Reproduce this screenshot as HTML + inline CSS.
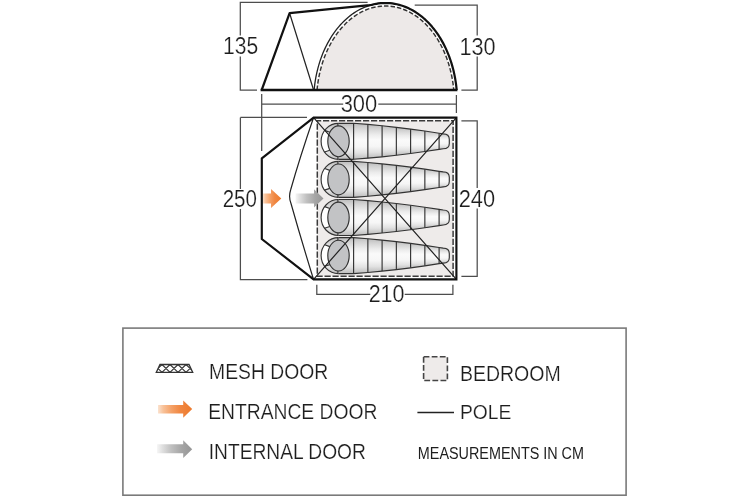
<!DOCTYPE html>
<html><head><meta charset="utf-8">
<style>
html,body{margin:0;padding:0;background:#fff;}
body{width:750px;height:500px;overflow:hidden;position:relative;}
svg{position:absolute;left:0;top:0;will-change:transform;}
text{font-family:"Liberation Sans",sans-serif;fill:#1e1e1e;stroke:#fff;stroke-width:0.2px;}
</style></head><body>
<svg width="750" height="500" viewBox="0 0 750 500">
<defs>
<linearGradient id="bg" x1="0" y1="0" x2="0" y2="1">
<stop offset="0" stop-color="#bcbcbc"/><stop offset="0.12" stop-color="#d2d2d2"/><stop offset="0.3" stop-color="#ececec"/><stop offset="0.45" stop-color="#fafafa"/><stop offset="0.65" stop-color="#f6f6f6"/><stop offset="0.82" stop-color="#e2e2e2"/><stop offset="1" stop-color="#bcbcbc"/>
</linearGradient>
<linearGradient id="og" x1="0" y1="0" x2="1" y2="0">
<stop offset="0" stop-color="#fbe3d0"/><stop offset="0.15" stop-color="#f8c29a"/><stop offset="0.4" stop-color="#f4a066"/><stop offset="0.65" stop-color="#f08742"/><stop offset="1" stop-color="#ed7a2c"/>
</linearGradient>
<linearGradient id="gg" x1="0" y1="0" x2="1" y2="0">
<stop offset="0" stop-color="#f6f6f6"/><stop offset="0.15" stop-color="#e0e0e0"/><stop offset="0.4" stop-color="#c0c0c0"/><stop offset="0.7" stop-color="#a5a5a5"/><stop offset="1" stop-color="#959595"/>
</linearGradient>
<clipPath id="meshclip"><path d="M160,364.5 L189,364.5 L192.7,372.3 L156.3,372.3Z"/></clipPath>
</defs>

<!-- ===== Elevation ===== -->
<g fill="none" stroke="#4d4d4d" stroke-width="1.25">
<path d="M257,90 H240.3 V56.6 M240.3,35.6 V2.4 H367.6"/>
<path d="M414.7,5 H477.2 V35.6 M477.2,56.6 V90 H461.4"/>
</g>
<path d="M317.04,90 L317.35,86.95 L317.73,83.91 L318.19,80.89 L318.71,77.89 L319.3,74.92 L319.96,71.98 L320.68,69.07 L321.47,66.19 L322.33,63.34 L323.26,60.54 L324.24,57.78 L325.29,55.07 L326.41,52.4 L327.58,49.79 L328.81,47.23 L330.11,44.73 L331.45,42.28 L332.86,39.9 L334.32,37.58 L335.83,35.33 L337.39,33.14 L339,31.03 L340.66,28.99 L342.37,27.03 L344.12,25.14 L345.91,23.33 L347.75,21.6 L349.62,19.96 L351.53,18.4 L353.47,16.93 L355.45,15.54 L357.46,14.25 L359.49,13.04 L361.56,11.93 L363.65,10.91 L365.76,9.98 L367.89,9.15 L370.04,8.42 L372.2,7.78 L374.38,7.24 L376.57,6.79 L378.77,6.45 L380.98,6.2 L383.19,6.05 L385.4,6 L387.61,6.05 L389.82,6.2 L392.03,6.45 L394.23,6.79 L396.42,7.24 L398.6,7.78 L400.76,8.42 L402.91,9.15 L405.04,9.98 L407.15,10.91 L409.24,11.93 L411.31,13.04 L413.34,14.25 L415.35,15.54 L417.33,16.93 L419.27,18.4 L421.18,19.96 L423.05,21.6 L424.89,23.33 L426.68,25.14 L428.43,27.03 L430.14,28.99 L431.8,31.03 L433.41,33.14 L434.97,35.33 L436.48,37.58 L437.94,39.9 L439.35,42.28 L440.69,44.73 L441.99,47.23 L443.22,49.79 L444.39,52.4 L445.51,55.07 L446.56,57.78 L447.54,60.54 L448.47,63.34 L449.33,66.19 L450.12,69.07 L450.84,71.98 L451.5,74.92 L452.09,77.89 L452.61,80.89 L453.07,83.91 L453.45,86.95 L453.76,90 Z" fill="#ede9e8"/>
<path d="M317.04,90 L317.35,86.95 L317.73,83.91 L318.19,80.89 L318.71,77.89 L319.3,74.92 L319.96,71.98 L320.68,69.07 L321.47,66.19 L322.33,63.34 L323.26,60.54 L324.24,57.78 L325.29,55.07 L326.41,52.4 L327.58,49.79 L328.81,47.23 L330.11,44.73 L331.45,42.28 L332.86,39.9 L334.32,37.58 L335.83,35.33 L337.39,33.14 L339,31.03 L340.66,28.99 L342.37,27.03 L344.12,25.14 L345.91,23.33 L347.75,21.6 L349.62,19.96 L351.53,18.4 L353.47,16.93 L355.45,15.54 L357.46,14.25 L359.49,13.04 L361.56,11.93 L363.65,10.91 L365.76,9.98 L367.89,9.15 L370.04,8.42 L372.2,7.78 L374.38,7.24 L376.57,6.79 L378.77,6.45 L380.98,6.2 L383.19,6.05 L385.4,6 L387.61,6.05 L389.82,6.2 L392.03,6.45 L394.23,6.79 L396.42,7.24 L398.6,7.78 L400.76,8.42 L402.91,9.15 L405.04,9.98 L407.15,10.91 L409.24,11.93 L411.31,13.04 L413.34,14.25 L415.35,15.54 L417.33,16.93 L419.27,18.4 L421.18,19.96 L423.05,21.6 L424.89,23.33 L426.68,25.14 L428.43,27.03 L430.14,28.99 L431.8,31.03 L433.41,33.14 L434.97,35.33 L436.48,37.58 L437.94,39.9 L439.35,42.28 L440.69,44.73 L441.99,47.23 L443.22,49.79 L444.39,52.4 L445.51,55.07 L446.56,57.78 L447.54,60.54 L448.47,63.34 L449.33,66.19 L450.12,69.07 L450.84,71.98 L451.5,74.92 L452.09,77.89 L452.61,80.89 L453.07,83.91 L453.45,86.95 L453.76,90" fill="none" stroke="#333" stroke-width="1.45" stroke-dasharray="4.5 2"/>
<path d="M314.13,90 L314.45,86.84 L314.84,83.7 L315.3,80.58 L315.84,77.47 L316.45,74.4 L317.13,71.35 L317.88,68.34 L318.7,65.36 L319.59,62.41 L320.55,59.51 L321.57,56.65 L322.67,53.84 L323.82,51.08 L325.04,48.38 L326.33,45.72 L327.67,43.13 L329.08,40.6 L330.54,38.13 L332.06,35.73 L333.64,33.39 L335.27,31.13 L336.95,28.94 L338.68,26.83 L340.46,24.79 L342.28,22.84 L344.16,20.96 L346.07,19.17 L348.02,17.47 L350.02,15.86 L352.05,14.33 L354.11,12.89 L356.21,11.55 L358.34,10.3 L360.49,9.15 L362.67,8.09 L364.88,7.13 L367.1,6.27 L369.35,5.51 L371.61,4.84 L373.89,4.28 L376.18,3.82 L378.47,3.46" fill="none" stroke="#222" stroke-width="1.3"/>
<path d="M289.6,13.2 L313.6,90" fill="none" stroke="#222" stroke-width="1.2"/>
<path d="M261.7,90 L289.6,13.2 L369.61,5.14 L371.61,4.84 L373.89,4.28 L376.18,3.82 L378.47,3.46 L380.78,3.21 L383.09,3.05 L385.4,3 L387.71,3.05 L390.02,3.21 L392.33,3.46 L394.62,3.82 L396.91,4.28 L399.19,4.84 L401.45,5.51 L403.7,6.27 L405.92,7.13 L408.13,8.09 L410.31,9.15 L412.46,10.3 L414.59,11.55 L416.69,12.89 L418.75,14.33 L420.78,15.86 L422.78,17.47 L424.73,19.17 L426.64,20.96 L428.52,22.84 L430.34,24.79 L432.12,26.83 L433.85,28.94 L435.53,31.13 L437.16,33.39 L438.74,35.73 L440.26,38.13 L441.72,40.6 L443.13,43.13 L444.47,45.72 L445.76,48.38 L446.98,51.08 L448.13,53.84 L449.23,56.65 L450.25,59.51 L451.21,62.41 L452.1,65.36 L452.92,68.34 L453.67,71.35 L454.35,74.4 L454.96,77.47 L455.5,80.58 L455.96,83.7 L456.35,86.84 L456.67,90" fill="none" stroke="#111" stroke-width="2.2" stroke-linejoin="round"/>
<path d="M260.6,90 H457.4" stroke="#111" stroke-width="2.3"/>

<!-- 300 dim -->
<path d="M261.7,94 V151 M456.4,95 V113 M261.7,104 H343.2 M378.3,104 H456.4" stroke="#4d4d4d" stroke-width="1.25" fill="none"/>

<!-- ===== Floor plan ===== -->
<path d="M240.4,117.4 H307 M240.4,117.4 V189 M240.4,209 V279.7 H307.4" fill="none" stroke="#4d4d4d" stroke-width="1.25"/>
<path d="M461.4,120.8 H477.2 V188 M477.2,208.4 V276.3 H461.4" fill="none" stroke="#4d4d4d" stroke-width="1.25"/>
<path d="M316.8,284.8 V294.3 H370.3 M404.7,294.3 H452.9 V284.8" fill="none" stroke="#4d4d4d" stroke-width="1.25"/>

<rect x="317.3" y="120.8" width="135.8" height="155.5" fill="#eeebea"/>
<path d="M317.3,120.8 H453.1 V276.3 H317.3 Z" fill="none" stroke="#3a3a3a" stroke-width="1.5" stroke-dasharray="6.2 1.8" stroke-dashoffset="2.3"/>
<path d="M338.5,123.3 A17.4,18 0 0 0 338.5,159.3Z" fill="url(#bg)"/>
<path d="M338.5,123.3 L353.6,123.3 L353.6,159.3 L338.5,159.3Z" fill="url(#bg)"/>
<path d="M353.6,123.3 L367.85,124.44 L367.85,158.16 L353.6,159.3Z" fill="url(#bg)"/>
<path d="M367.85,124.44 L382.1,125.79 L382.1,156.81 L367.85,158.16Z" fill="url(#bg)"/>
<path d="M382.1,125.79 L396.35,127.34 L396.35,155.26 L382.1,156.81Z" fill="url(#bg)"/>
<path d="M396.35,127.34 L410.6,129.09 L410.6,153.51 L396.35,155.26Z" fill="url(#bg)"/>
<path d="M410.6,129.09 L424.85,131.05 L424.85,151.55 L410.6,153.51Z" fill="url(#bg)"/>
<path d="M424.85,131.05 L439.1,133.21 L439.1,149.39 L424.85,151.55Z" fill="url(#bg)"/>
<path d="M439.1,133.21 L443.3,133.81 Q449.3,134.01 449.3,139.21 L449.3,143.39 Q449.3,148.59 443.3,148.79 L439.1,149.39Z" fill="url(#bg)"/>
<path d="M324.65,130.4 L323.92,131.48 L323.29,132.56 L322.75,133.64 L322.3,134.72 L321.93,135.8 L321.63,136.88 L321.4,137.96 L321.24,139.04 L321.14,140.12 L321.1,141.2 L321.13,142.28 L321.21,143.36 L321.37,144.44 L321.58,145.52 L321.87,146.6 L322.23,147.68 L322.66,148.76 L323.18,149.84 L323.79,150.92 L324.51,152 L329.82,150.3 L329.4,149.4 L329.04,148.5 L328.74,147.6 L328.48,146.7 L328.27,145.8 L328.1,144.9 L327.97,144 L327.87,143.1 L327.82,142.2 L327.8,141.3 L327.82,140.4 L327.87,139.5 L327.97,138.6 L328.1,137.7 L328.27,136.8 L328.48,135.9 L328.74,135 L329.04,134.1 L329.4,133.2 L329.82,132.3Z" fill="#fff"/>
<ellipse cx="338.5" cy="141.3" rx="10.7" ry="15.4" fill="#c2c3c5" stroke="#333" stroke-width="1.15"/>
<path d="M338.5,123.3 A17.4,18 0 0 0 338.5,159.3" fill="none" stroke="#333" stroke-width="1.15"/>
<path d="M338.5,123.3 L353.6,123.3 L367.85,124.44 L382.1,125.79 L396.35,127.34 L410.6,129.09 L424.85,131.05 L439.1,133.21 L443.3,133.81 Q449.3,134.01 449.3,139.21 L449.3,143.39 Q449.3,148.59 443.3,148.79 L439.1,149.39 L424.85,151.55 L410.6,153.51 L396.35,155.26 L382.1,156.81 L367.85,158.16 L353.6,159.3 L338.5,159.3" fill="none" stroke="#333" stroke-width="1.15" stroke-linejoin="round"/>
<path d="M353.6,123.3 V159.3 M367.85,124.44 V158.16 M382.1,125.79 V156.81 M396.35,127.34 V155.26 M410.6,129.09 V153.51 M424.85,131.05 V151.55 M439.1,133.21 V149.39 M337.9,123.3 V125.9 M337.9,159.3 V156.7 M324.65,130.4 L329.82,132.3 M324.51,152 L329.82,150.3" fill="none" stroke="#333" stroke-width="1.15"/>
<path d="M338.5,161.4 A17.4,18 0 0 0 338.5,197.4Z" fill="url(#bg)"/>
<path d="M338.5,161.4 L353.6,161.4 L353.6,197.4 L338.5,197.4Z" fill="url(#bg)"/>
<path d="M353.6,161.4 L367.85,162.54 L367.85,196.26 L353.6,197.4Z" fill="url(#bg)"/>
<path d="M367.85,162.54 L382.1,163.89 L382.1,194.91 L367.85,196.26Z" fill="url(#bg)"/>
<path d="M382.1,163.89 L396.35,165.44 L396.35,193.36 L382.1,194.91Z" fill="url(#bg)"/>
<path d="M396.35,165.44 L410.6,167.19 L410.6,191.61 L396.35,193.36Z" fill="url(#bg)"/>
<path d="M410.6,167.19 L424.85,169.15 L424.85,189.65 L410.6,191.61Z" fill="url(#bg)"/>
<path d="M424.85,169.15 L439.1,171.31 L439.1,187.49 L424.85,189.65Z" fill="url(#bg)"/>
<path d="M439.1,171.31 L443.3,171.91 Q449.3,172.11 449.3,177.31 L449.3,181.49 Q449.3,186.69 443.3,186.89 L439.1,187.49Z" fill="url(#bg)"/>
<path d="M324.65,168.5 L323.92,169.58 L323.29,170.66 L322.75,171.74 L322.3,172.82 L321.93,173.9 L321.63,174.98 L321.4,176.06 L321.24,177.14 L321.14,178.22 L321.1,179.3 L321.13,180.38 L321.21,181.46 L321.37,182.54 L321.58,183.62 L321.87,184.7 L322.23,185.78 L322.66,186.86 L323.18,187.94 L323.79,189.02 L324.51,190.1 L329.82,188.4 L329.4,187.5 L329.04,186.6 L328.74,185.7 L328.48,184.8 L328.27,183.9 L328.1,183 L327.97,182.1 L327.87,181.2 L327.82,180.3 L327.8,179.4 L327.82,178.5 L327.87,177.6 L327.97,176.7 L328.1,175.8 L328.27,174.9 L328.48,174 L328.74,173.1 L329.04,172.2 L329.4,171.3 L329.82,170.4Z" fill="#fff"/>
<ellipse cx="338.5" cy="179.4" rx="10.7" ry="15.4" fill="#c2c3c5" stroke="#333" stroke-width="1.15"/>
<path d="M338.5,161.4 A17.4,18 0 0 0 338.5,197.4" fill="none" stroke="#333" stroke-width="1.15"/>
<path d="M338.5,161.4 L353.6,161.4 L367.85,162.54 L382.1,163.89 L396.35,165.44 L410.6,167.19 L424.85,169.15 L439.1,171.31 L443.3,171.91 Q449.3,172.11 449.3,177.31 L449.3,181.49 Q449.3,186.69 443.3,186.89 L439.1,187.49 L424.85,189.65 L410.6,191.61 L396.35,193.36 L382.1,194.91 L367.85,196.26 L353.6,197.4 L338.5,197.4" fill="none" stroke="#333" stroke-width="1.15" stroke-linejoin="round"/>
<path d="M353.6,161.4 V197.4 M367.85,162.54 V196.26 M382.1,163.89 V194.91 M396.35,165.44 V193.36 M410.6,167.19 V191.61 M424.85,169.15 V189.65 M439.1,171.31 V187.49 M337.9,161.4 V164 M337.9,197.4 V194.8 M324.65,168.5 L329.82,170.4 M324.51,190.1 L329.82,188.4" fill="none" stroke="#333" stroke-width="1.15"/>
<path d="M338.5,199.5 A17.4,18 0 0 0 338.5,235.5Z" fill="url(#bg)"/>
<path d="M338.5,199.5 L353.6,199.5 L353.6,235.5 L338.5,235.5Z" fill="url(#bg)"/>
<path d="M353.6,199.5 L367.85,200.64 L367.85,234.36 L353.6,235.5Z" fill="url(#bg)"/>
<path d="M367.85,200.64 L382.1,201.99 L382.1,233.01 L367.85,234.36Z" fill="url(#bg)"/>
<path d="M382.1,201.99 L396.35,203.54 L396.35,231.46 L382.1,233.01Z" fill="url(#bg)"/>
<path d="M396.35,203.54 L410.6,205.29 L410.6,229.71 L396.35,231.46Z" fill="url(#bg)"/>
<path d="M410.6,205.29 L424.85,207.25 L424.85,227.75 L410.6,229.71Z" fill="url(#bg)"/>
<path d="M424.85,207.25 L439.1,209.41 L439.1,225.59 L424.85,227.75Z" fill="url(#bg)"/>
<path d="M439.1,209.41 L443.3,210.01 Q449.3,210.21 449.3,215.41 L449.3,219.59 Q449.3,224.79 443.3,224.99 L439.1,225.59Z" fill="url(#bg)"/>
<path d="M324.65,206.6 L323.92,207.68 L323.29,208.76 L322.75,209.84 L322.3,210.92 L321.93,212 L321.63,213.08 L321.4,214.16 L321.24,215.24 L321.14,216.32 L321.1,217.4 L321.13,218.48 L321.21,219.56 L321.37,220.64 L321.58,221.72 L321.87,222.8 L322.23,223.88 L322.66,224.96 L323.18,226.04 L323.79,227.12 L324.51,228.2 L329.82,226.5 L329.4,225.6 L329.04,224.7 L328.74,223.8 L328.48,222.9 L328.27,222 L328.1,221.1 L327.97,220.2 L327.87,219.3 L327.82,218.4 L327.8,217.5 L327.82,216.6 L327.87,215.7 L327.97,214.8 L328.1,213.9 L328.27,213 L328.48,212.1 L328.74,211.2 L329.04,210.3 L329.4,209.4 L329.82,208.5Z" fill="#fff"/>
<ellipse cx="338.5" cy="217.5" rx="10.7" ry="15.4" fill="#c2c3c5" stroke="#333" stroke-width="1.15"/>
<path d="M338.5,199.5 A17.4,18 0 0 0 338.5,235.5" fill="none" stroke="#333" stroke-width="1.15"/>
<path d="M338.5,199.5 L353.6,199.5 L367.85,200.64 L382.1,201.99 L396.35,203.54 L410.6,205.29 L424.85,207.25 L439.1,209.41 L443.3,210.01 Q449.3,210.21 449.3,215.41 L449.3,219.59 Q449.3,224.79 443.3,224.99 L439.1,225.59 L424.85,227.75 L410.6,229.71 L396.35,231.46 L382.1,233.01 L367.85,234.36 L353.6,235.5 L338.5,235.5" fill="none" stroke="#333" stroke-width="1.15" stroke-linejoin="round"/>
<path d="M353.6,199.5 V235.5 M367.85,200.64 V234.36 M382.1,201.99 V233.01 M396.35,203.54 V231.46 M410.6,205.29 V229.71 M424.85,207.25 V227.75 M439.1,209.41 V225.59 M337.9,199.5 V202.1 M337.9,235.5 V232.9 M324.65,206.6 L329.82,208.5 M324.51,228.2 L329.82,226.5" fill="none" stroke="#333" stroke-width="1.15"/>
<path d="M338.5,237.6 A17.4,18 0 0 0 338.5,273.6Z" fill="url(#bg)"/>
<path d="M338.5,237.6 L353.6,237.6 L353.6,273.6 L338.5,273.6Z" fill="url(#bg)"/>
<path d="M353.6,237.6 L367.85,238.74 L367.85,272.46 L353.6,273.6Z" fill="url(#bg)"/>
<path d="M367.85,238.74 L382.1,240.09 L382.1,271.11 L367.85,272.46Z" fill="url(#bg)"/>
<path d="M382.1,240.09 L396.35,241.64 L396.35,269.56 L382.1,271.11Z" fill="url(#bg)"/>
<path d="M396.35,241.64 L410.6,243.39 L410.6,267.81 L396.35,269.56Z" fill="url(#bg)"/>
<path d="M410.6,243.39 L424.85,245.35 L424.85,265.85 L410.6,267.81Z" fill="url(#bg)"/>
<path d="M424.85,245.35 L439.1,247.51 L439.1,263.69 L424.85,265.85Z" fill="url(#bg)"/>
<path d="M439.1,247.51 L443.3,248.11 Q449.3,248.31 449.3,253.51 L449.3,257.69 Q449.3,262.89 443.3,263.09 L439.1,263.69Z" fill="url(#bg)"/>
<path d="M324.65,244.7 L323.92,245.78 L323.29,246.86 L322.75,247.94 L322.3,249.02 L321.93,250.1 L321.63,251.18 L321.4,252.26 L321.24,253.34 L321.14,254.42 L321.1,255.5 L321.13,256.58 L321.21,257.66 L321.37,258.74 L321.58,259.82 L321.87,260.9 L322.23,261.98 L322.66,263.06 L323.18,264.14 L323.79,265.22 L324.51,266.3 L329.82,264.6 L329.4,263.7 L329.04,262.8 L328.74,261.9 L328.48,261 L328.27,260.1 L328.1,259.2 L327.97,258.3 L327.87,257.4 L327.82,256.5 L327.8,255.6 L327.82,254.7 L327.87,253.8 L327.97,252.9 L328.1,252 L328.27,251.1 L328.48,250.2 L328.74,249.3 L329.04,248.4 L329.4,247.5 L329.82,246.6Z" fill="#fff"/>
<ellipse cx="338.5" cy="255.6" rx="10.7" ry="15.4" fill="#c2c3c5" stroke="#333" stroke-width="1.15"/>
<path d="M338.5,237.6 A17.4,18 0 0 0 338.5,273.6" fill="none" stroke="#333" stroke-width="1.15"/>
<path d="M338.5,237.6 L353.6,237.6 L367.85,238.74 L382.1,240.09 L396.35,241.64 L410.6,243.39 L424.85,245.35 L439.1,247.51 L443.3,248.11 Q449.3,248.31 449.3,253.51 L449.3,257.69 Q449.3,262.89 443.3,263.09 L439.1,263.69 L424.85,265.85 L410.6,267.81 L396.35,269.56 L382.1,271.11 L367.85,272.46 L353.6,273.6 L338.5,273.6" fill="none" stroke="#333" stroke-width="1.15" stroke-linejoin="round"/>
<path d="M353.6,237.6 V273.6 M367.85,238.74 V272.46 M382.1,240.09 V271.11 M396.35,241.64 V269.56 M410.6,243.39 V267.81 M424.85,245.35 V265.85 M439.1,247.51 V263.69 M337.9,237.6 V240.2 M337.9,273.6 V271 M324.65,244.7 L329.82,246.6 M324.51,266.3 L329.82,264.6" fill="none" stroke="#333" stroke-width="1.15"/>
<path d="M313.6,117.6 L456.4,279.4 M456.4,117.6 L313.6,279.4" stroke="#222" stroke-width="1.2" fill="none"/>
<path d="M313.4,118 Q300,157 290.6,190 Q288.4,197 291,203.5 Q301,239 313.4,279" fill="none" stroke="#222" stroke-width="1.2"/>
<path d="M262.6,193.5 H271 V189 L281.3,198.5 L271,208 V203.5 H262.6 Z" fill="url(#og)"/>
<path d="M261.8,158.4 L313.6,117.6 H456.4 V279.4 H313.6 L261.8,239 Z" fill="none" stroke="#111" stroke-width="2.15" stroke-linejoin="miter"/>

<!-- arrows -->
<path d="M295.5,193.4 H314 V189.3 L323.5,198.4 L314,207.5 V203.4 H295.5 Z" fill="url(#gg)"/>

<!-- dimension numbers -->
<text x="222.96" y="54.3" font-size="23.1" textLength="35.15" lengthAdjust="spacingAndGlyphs">135</text>
<text x="459.53" y="54.8" font-size="23.1" textLength="36.15" lengthAdjust="spacingAndGlyphs">130</text>
<text x="340.67" y="112" font-size="23.1" textLength="36.63" lengthAdjust="spacingAndGlyphs">300</text>
<text x="222.67" y="206.8" font-size="23.3" textLength="34.3" lengthAdjust="spacingAndGlyphs">250</text>
<text x="458.72" y="206.8" font-size="23.3" textLength="36.39" lengthAdjust="spacingAndGlyphs">240</text>
<text x="368.67" y="301.7" font-size="23.1" textLength="35.87" lengthAdjust="spacingAndGlyphs">210</text>
<!-- ===== Legend ===== -->
<rect x="122.9" y="328.1" width="503.2" height="167.1" fill="none" stroke="#7a7a7a" stroke-width="1.6"/>
<g>
<path d="M154,364.5 L162,372.3 M162,364.5 L154,372.3 M162,364.5 L170,372.3 M170,364.5 L162,372.3 M170,364.5 L178,372.3 M178,364.5 L170,372.3 M178,364.5 L186,372.3 M186,364.5 L178,372.3 M186,364.5 L194,372.3 M194,364.5 L186,372.3" stroke="#333" stroke-width="1.1" clip-path="url(#meshclip)"/>
<path d="M160,364.5 L189,364.5 L192.7,372.3 L156.3,372.3Z" fill="none" stroke="#333" stroke-width="1.3"/>
</g>
<path d="M158,404.9 H183.2 V400.4 L192.2,409.1 L183.2,417.8 V413.6 H158 Z" fill="url(#og)"/>
<path d="M157,444.2 H183.2 V440.3 L192.2,449.2 L183.2,458 V453.2 H157 Z" fill="url(#gg)"/>
<rect x="423.6" y="356.8" width="23.8" height="23.7" fill="#eeebea" stroke="#444" stroke-width="1.6" stroke-dasharray="5.8 2.3"/>
<path d="M417.4,412.5 H454" stroke="#222" stroke-width="1.4"/>

<text x="209.1" y="378.8" font-size="21.43" textLength="119.08" lengthAdjust="spacingAndGlyphs">MESH DOOR</text>
<text x="208.15" y="419" font-size="21.29" textLength="169.29" lengthAdjust="spacingAndGlyphs">ENTRANCE DOOR</text>
<text x="208.72" y="458.6" font-size="21.71" textLength="157.2" lengthAdjust="spacingAndGlyphs">INTERNAL DOOR</text>
<text x="459.91" y="380.7" font-size="22" textLength="100.79" lengthAdjust="spacingAndGlyphs">BEDROOM</text>
<text x="459.91" y="419.3" font-size="21" textLength="51.38" lengthAdjust="spacingAndGlyphs">POLE</text>
<text x="417.86" y="458.5" font-size="15.57" textLength="166.11" lengthAdjust="spacingAndGlyphs" style="stroke-width:0">MEASUREMENTS IN CM</text>
</svg>
</body></html>
